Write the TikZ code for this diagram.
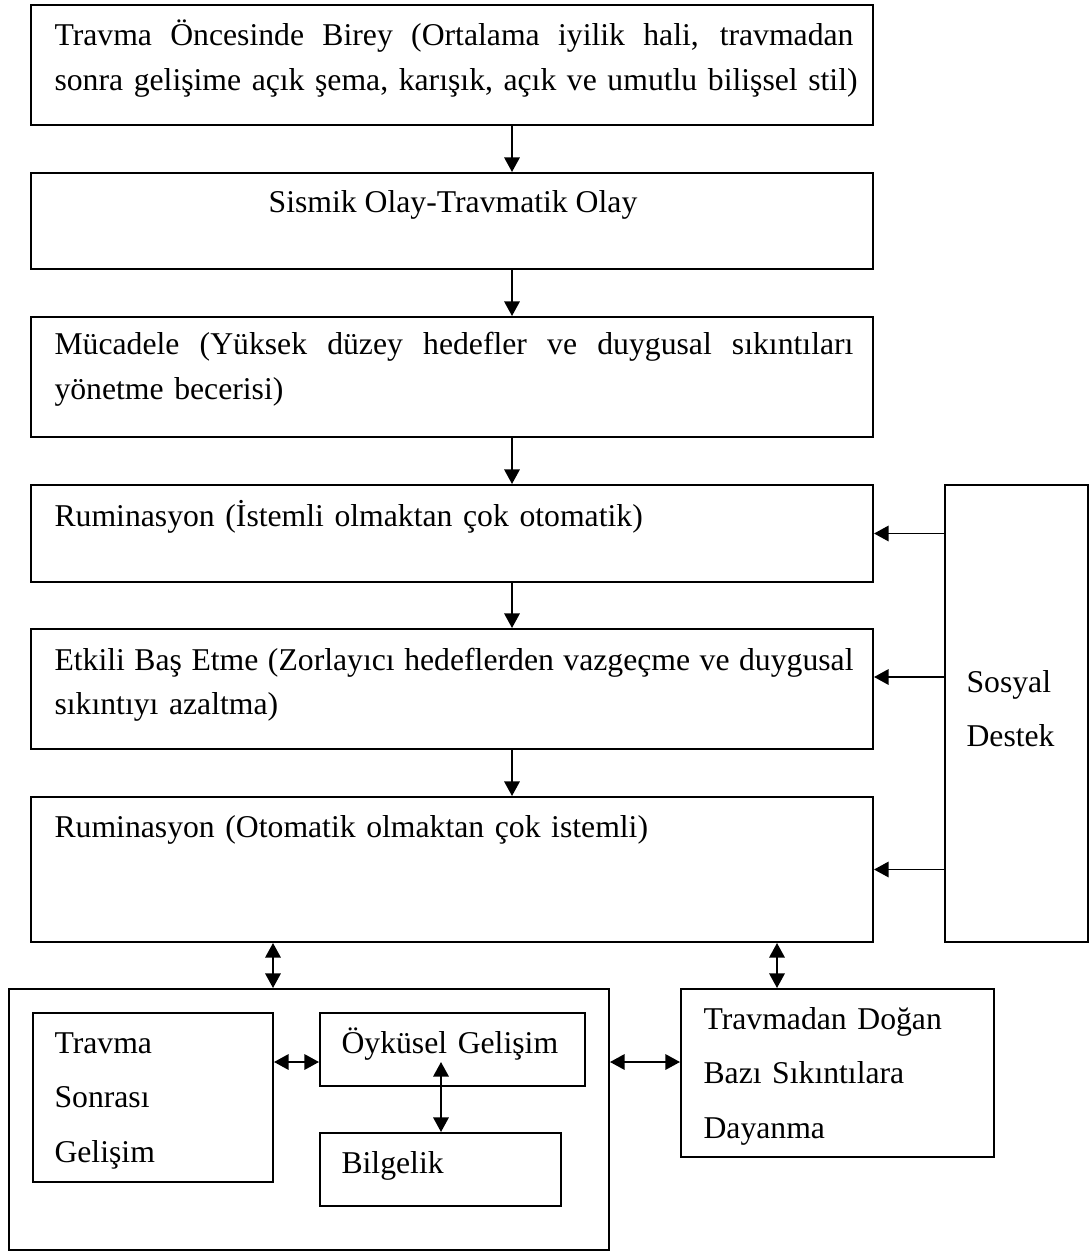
\documentclass[tikz,border=0pt]{standalone}
\usepackage{fontspec}
\setmainfont{Liberation Serif}
\usetikzlibrary{arrows.meta}

\newcommand{\px}{0.3785pt}
\newcommand{\fullline}[1]{{\spaceskip=\fontdimen2\font plus 1fil\relax\makebox[302.4pt][s]{#1}}}

\tikzset{
  box/.style 2 args={draw, line width=0.75pt, inner sep=0pt, minimum width=#1*\px, minimum height=#2*\px},
  txt/.style={inner sep=0pt, anchor=base west, align=left, text width=310pt, font=\fontsize{12pt}{17pt}\selectfont},
  txtwide/.style={txt, font=\fontsize{12pt}{20.8pt}\selectfont},
  arr/.style={-{Triangle[length=5.5pt,width=5.8pt]}, line width=0.75pt},
  dbl/.style={{Triangle[length=5.5pt,width=5.8pt]}-{Triangle[length=5.5pt,width=5.8pt]}, line width=0.75pt},
}

\begin{document}
\begin{tikzpicture}[x=0.3785pt, y=-0.3785pt]
  \useasboundingbox (0,0) rectangle (1090,1253);

  % main column
  \node[box={842}{120}] (pre) at (452,65) {};
  \node[box={842}{96}] (sismik) at (452,221) {};
  \node[box={842}{120}] (mucadele) at (452,377) {};
  \node[box={842}{97}] (rum1) at (452,533.5) {};
  \node[box={842}{120}] (etkili) at (452,689) {};
  \node[box={842}{145}] (rum2) at (452,869.5) {};
  \node[box={143}{457}] (sosyal) at (1016.5,713.5) {};

  \node[txt] (pretext) at (54,46) {\fullline{Travma Öncesinde Birey (Ortalama iyilik hali, travmadan}\\sonra gelişime açık şema, karışık, açık ve umutlu bilişsel stil)};
  \node[inner sep=0pt, anchor=base, font=\fontsize{12pt}{17pt}\selectfont] (sismiktext) at (453,213) {Sismik Olay-Travmatik Olay};
  \node[txt] (mucadeletext) at (54,355) {\fullline{Mücadele (Yüksek düzey hedefler ve duygusal sıkıntıları}\\yönetme becerisi)};
  \node[txt] (rum1text) at (54,526) {Ruminasyon (İstemli olmaktan çok otomatik)};
  \node[txt] (etkilitext) at (54,670) {\fullline{Etkili Baş Etme (Zorlayıcı hedeflerden vazgeçme ve duygusal}\\sıkıntıyı azaltma)};
  \node[txt] (rum2text) at (54,837) {Ruminasyon (Otomatik olmaktan çok istemli)};
  \node[txtwide] (sosyaltext) at (966,692) {Sosyal\\Destek};

  % bottom row
  \node[box={600}{261}] (buyume) at (309,1119.5) {};
  \node[box={240}{169}] (tsg) at (153,1097.5) {};
  \node[box={265}{73}] (oyku) at (452.5,1049.5) {};
  \node[box={241}{73}] (bilge) at (440.5,1169.5) {};
  \node[box={313}{168}] (dayanma) at (837.5,1073) {};

  \node[txtwide] (tsgtext) at (54,1053) {Travma\\Sonrası\\Gelişim};
  \node[txt] (oykutext) at (341,1053) {Öyküsel Gelişim};
  \node[txt] (bilgetext) at (341,1173) {Bilgelik};
  \node[txtwide] (dayanmatext) at (703,1029) {Travmadan Doğan\\Bazı Sıkıntılara\\Dayanma};

  % connectors
  \coordinate (ax) at (512,0);
  \foreach \a/\b in {pre/sismik, sismik/mucadele, mucadele/rum1, rum1/etkili, etkili/rum2} {
    \draw[arr] (\a.south -| ax) -- (\b.north -| ax);
  }

  \coordinate (etk) at (0,677);
  \draw[arr] (sosyal.west |- rum1.east) -- (rum1.east);
  \draw[arr] (sosyal.west |- etk) -- (etkili.east |- etk);
  \draw[arr] (sosyal.west |- rum2.east) -- (rum2.east);

  \coordinate (dl) at (273,0);
  \coordinate (dr) at (777,0);
  \coordinate (mid) at (0,1062);
  \coordinate (om) at (441,1062);
  \draw[dbl] (rum2.south -| dl) -- (buyume.north -| dl);
  \draw[dbl] (rum2.south -| dr) -- (dayanma.north -| dr);
  \draw[dbl] (tsg.east |- mid) -- (oyku.west |- mid);
  \draw[dbl] (buyume.east |- mid) -- (dayanma.west |- mid);
  \draw[dbl] (om) -- (om |- bilge.north);
\end{tikzpicture}
\end{document}
